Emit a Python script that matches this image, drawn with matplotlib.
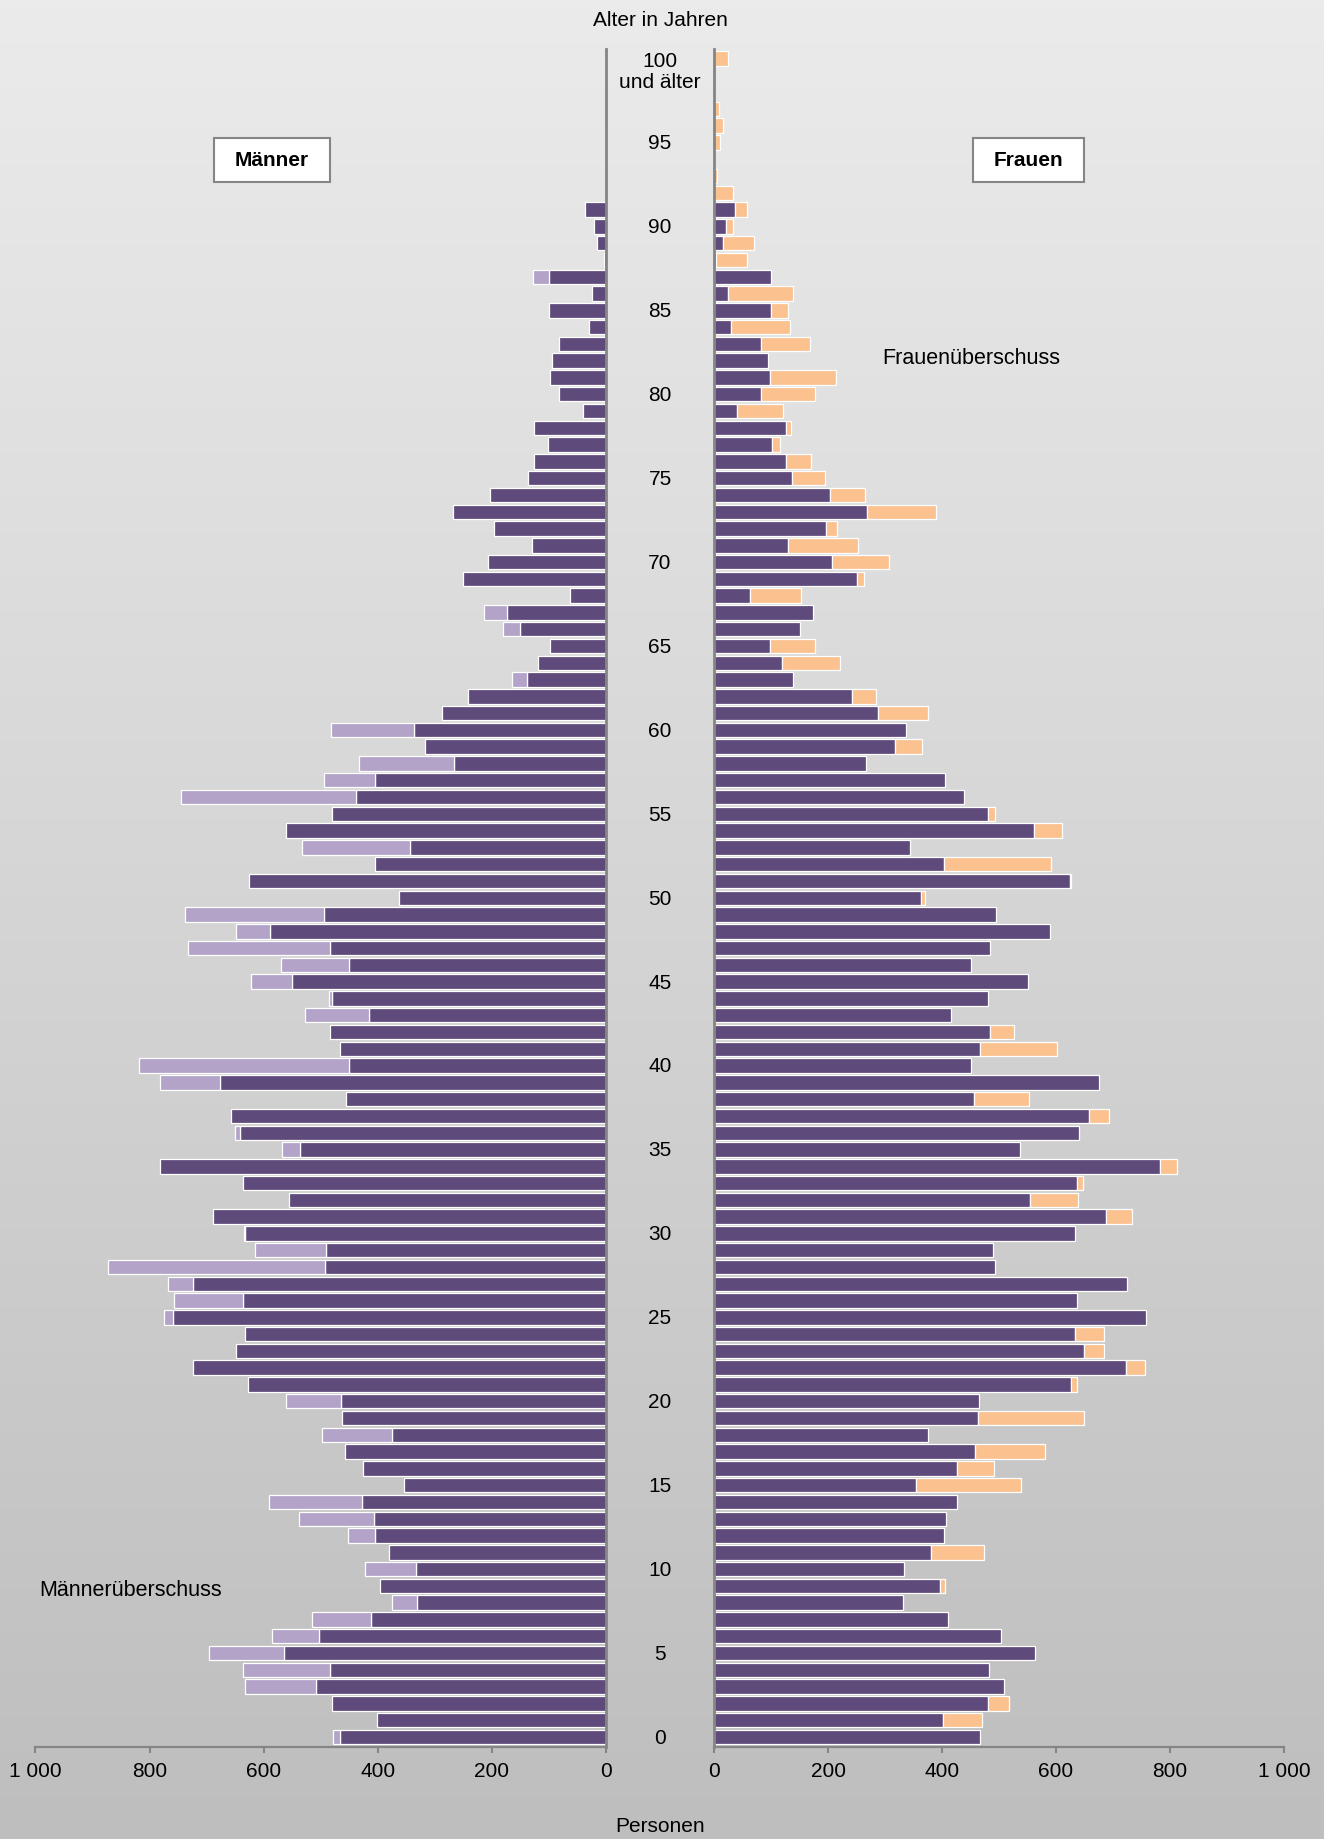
import numpy as np
import matplotlib
matplotlib.use("Agg")
import matplotlib.pyplot as plt
from matplotlib import transforms
from matplotlib.colors import LinearSegmentedColormap
from matplotlib.patches import Rectangle

plt.rcParams['font.family'] = ['Liberation Sans', 'DejaVu Sans']

# Alter 0 .. 100 (100 = "100 und älter")
ages = np.arange(0, 101)

men = [478, 402, 481, 633, 637, 696, 586, 515, 375, 396,
       422, 381, 452, 538, 591, 354, 426, 458, 498, 463,
       560, 627, 723, 649, 633, 775, 757, 767, 873, 615,
       635, 688, 555, 636, 782, 568, 650, 658, 456, 782,
       818, 466, 484, 528, 485, 623, 570, 732, 649, 738,
       363, 625, 404, 533, 561, 480, 744, 494, 433, 317,
       482, 288, 242, 165, 120, 99, 181, 213, 63, 250,
       207, 129, 196, 269, 203, 137, 126, 101, 126, 40,
       82, 98, 95, 83, 30, 100, 25, 128, 4, 15,
       21, 37, 0, 0, 0, 0, 0, 0, 0, 0,
       0]

women = [467, 471, 517, 508, 483, 564, 503, 411, 332, 405,
         333, 474, 404, 407, 427, 538, 491, 580, 375, 649,
         465, 636, 757, 685, 684, 758, 636, 724, 493, 490,
         633, 734, 639, 647, 813, 537, 641, 693, 552, 676,
         450, 601, 527, 416, 481, 550, 451, 484, 589, 495,
         370, 626, 591, 344, 610, 493, 439, 405, 266, 365,
         336, 376, 285, 139, 221, 177, 150, 173, 153, 263,
         307, 253, 215, 389, 265, 194, 170, 116, 135, 121,
         178, 214, 95, 169, 133, 130, 138, 100, 58, 71,
         33, 58, 33, 5, 0, 10, 16, 9, 0, 0,
         24]

xtick_vals = [0, 200, 400, 600, 800, 1000]
xtick_labels = ["0", "200", "400", "600", "800", "1 000"]
age_ticks = [0, 5, 10, 15, 20, 25, 30, 35, 40, 45, 50, 55, 60, 65, 70, 75, 80, 85, 90, 95]

DARK = '#5f4b7b'
LIGHT = '#b3a3c9'
ORANGE = '#fbc290'
GREY = '#858585'

men = np.array(men)
women = np.array(women)
common = np.minimum(men, women)
men_extra = men - common
women_extra = women - common

W, H = 1324, 1839
fig = plt.figure(figsize=(W / 100, H / 100), dpi=100)

# Hintergrund mit Verlauf
bg = fig.add_axes([0, 0, 1, 1], zorder=-10)
grad = np.linspace(0, 1, 256).reshape(-1, 1)
cmap = LinearSegmentedColormap.from_list('bg', ['#ebebeb', '#bebebe'])
bg.imshow(grad, aspect='auto', cmap=cmap, extent=[0, 1, 0, 1], origin='upper')
bg.set_axis_off()

bottom = 1 - 1747 / H
top = 1 - 49 / H
axL = fig.add_axes([35.4 / W, bottom, (606 - 35.4) / W, top - bottom])
axR = fig.add_axes([714 / W, bottom, (1284 - 714) / W, top - bottom])

bar_kw = dict(height=0.86, edgecolor='white', linewidth=0.9)


def draw(ax, base, extra, extra_color):
    m = base > 0
    ax.barh(ages[m], base[m], color=DARK, **bar_kw)
    m2 = extra > 0
    ax.barh(ages[m2], extra[m2], left=base[m2], color=extra_color, **bar_kw)


draw(axL, common, men_extra, LIGHT)
draw(axR, common, women_extra, ORANGE)

axL.set_xlim(1000, 0)
axR.set_xlim(0, 1000)
for ax in (axL, axR):
    ax.set_ylim(-0.6, 100.57)
    ax.patch.set_visible(False)
    for s in ax.spines.values():
        s.set_visible(False)
    ax.spines['bottom'].set_visible(True)
    ax.spines['bottom'].set_color(GREY)
    ax.spines['bottom'].set_linewidth(1.6)
    ax.set_yticks([])
    ax.set_xticks(xtick_vals)
    ax.set_xticklabels(xtick_labels)
    ax.tick_params(axis='x', direction='out', length=4, width=1.5, color=GREY,
                   labelsize=15, pad=7)
axL.spines['right'].set_visible(True)
axL.spines['right'].set_color(GREY)
axL.spines['right'].set_linewidth(2)
axR.spines['left'].set_visible(True)
axR.spines['left'].set_color(GREY)
axR.spines['left'].set_linewidth(2)

# Altersbeschriftung in der Mitte
trans = transforms.blended_transform_factory(fig.transFigure, axL.transData)
xc = 660 / W
for a in age_ticks:
    fig.text(xc, a - 0.08, str(a), transform=trans, ha='center', va='center', fontsize=15)
fig.text(xc, 99.8, "100", transform=trans, ha='center', va='center', fontsize=15)
fig.text(xc, 98.55, "und älter", transform=trans, ha='center', va='center', fontsize=15)

fig.text(xc, 1 - 20 / H, "Alter in Jahren", ha='center', va='center', fontsize=15)
fig.text(xc, 1 - 1827 / H, "Personen", ha='center', va='center', fontsize=15)

# Kästchen Männer / Frauen
for x0, x1, label in [(214, 330, "Männer"), (973, 1084, "Frauen")]:
    fig.patches.append(Rectangle((x0 / W, 1 - 182 / H), (x1 - x0) / W, 44 / H,
                                 transform=fig.transFigure, facecolor='white',
                                 edgecolor=GREY, linewidth=1.5, zorder=5))
    fig.text((x0 + x1) / 2 / W, 1 - 160 / H, label, ha='center', va='center',
             fontsize=15, fontweight='bold', zorder=6)

fig.text(971 / W, 1 - 358 / H, "Frauenüberschuss", ha='center', va='center', fontsize=15.5)
fig.text(39 / W, 1 - 1591 / H, "Männerüberschuss", ha='left', va='center', fontsize=15.5)

fig.savefig("out.png", dpi=100)
